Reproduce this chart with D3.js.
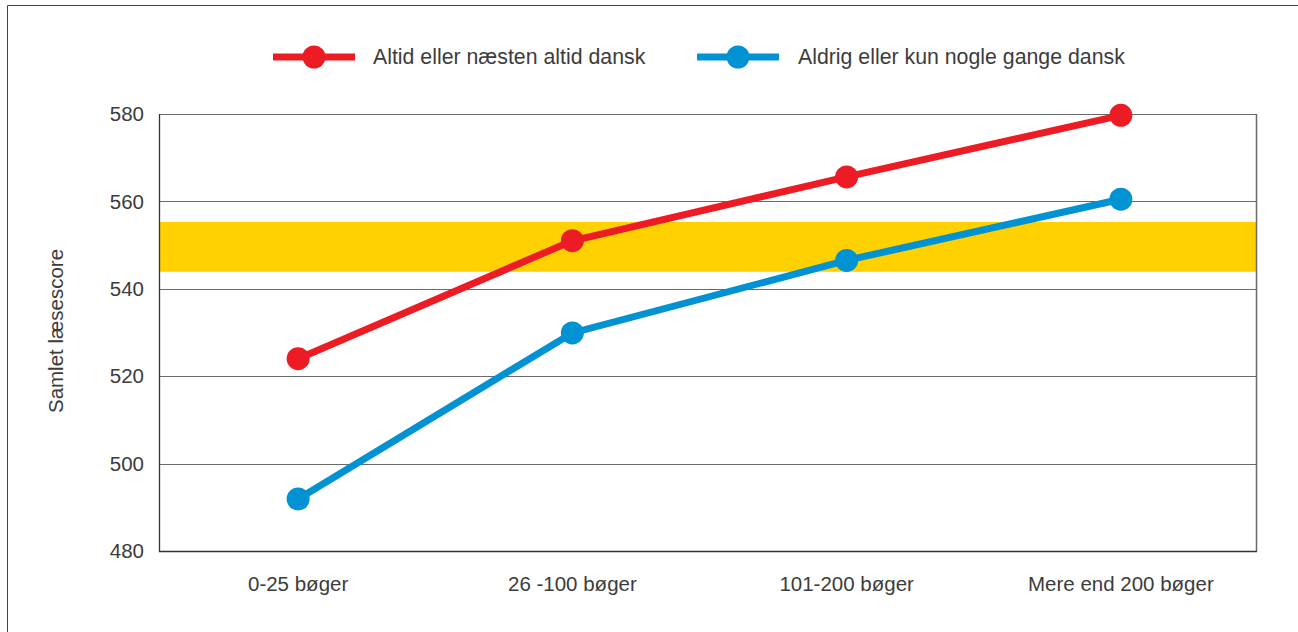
<!DOCTYPE html>
<html><head><meta charset="utf-8">
<script src="https://cdn.jsdelivr.net/npm/d3@7"></script>
<style>body{margin:0;background:#fff;} text{font-family:"Liberation Sans","Noto Sans",sans-serif;fill:#3c3c3c;}</style>
</head><body><svg id="c" width="1298" height="632"></svg>
<script>
const categories = ["0-25 bøger","26 -100 bøger","101-200 bøger","Mere end 200 bøger"];
const seriesNames = ["Altid eller næsten altid dansk","Aldrig eller kun nogle gange dansk"];
const seriesRed = [524, 551, 565.6, 579.7];
const seriesBlue = [491.9, 529.9, 546.5, 560.5];
const yTicks = [480, 500, 520, 540, 560, 580];
const band = [543.9, 555.3];
const colors = ["#ED1C24", "#0092D2"];
const yTitle = "Samlet læsescore";

const svg = d3.select("#c");
const L = 159, R = 1256, T = 114, B = 551;
const x = d3.scalePoint().domain(categories).range([L + 2, R + 2]).padding(0.5);
const y = d3.scaleLinear().domain([480, 580]).range([B, T]);

// outer frame
svg.append("path").attr("d", "M7.5,640V5.5H1300").attr("fill","none").attr("stroke","#444").attr("stroke-width",1);

// yellow band
svg.append("rect").attr("x", L).attr("width", R-L).attr("y", y(band[1])).attr("height", y(band[0]) - y(band[1])).attr("fill", "#FFD100");

// gridlines
svg.append("g").selectAll("line").data(yTicks.slice(1)).join("line")
  .attr("x1", L).attr("x2", R).attr("y1", d => Math.round(y(d))+0.5).attr("y2", d => Math.round(y(d))+0.5)
  .attr("stroke", "#6a6a6a").attr("stroke-width", 1);
// right border
svg.append("line").attr("x1", R+0.5).attr("x2", R+0.5).attr("y1", T).attr("y2", B).attr("stroke","#6a6a6a").attr("stroke-width",1.5);
// left & bottom axis lines
svg.append("path").attr("d", `M${L+0.5},${T}V${B+0.5}H${R+1}`).attr("fill","none").attr("stroke","#333").attr("stroke-width",1.3);

// y tick labels
svg.append("g").selectAll("text").data(yTicks).join("text")
  .attr("x", 144).attr("y", d => y(d)).attr("dy", "0.35em").attr("text-anchor","end")
  .attr("font-size", 20.5).text(d => d);

// x labels
svg.append("g").selectAll("text").data(categories).join("text")
  .attr("x", d => x(d)).attr("y", 591).attr("text-anchor","middle")
  .attr("font-size", 20.5).text(d => d);

// y title
svg.append("text").attr("transform", "translate(63,331) rotate(-90)").attr("text-anchor","middle")
  .attr("font-size", 20.5).text(yTitle);

// lines
const line = d3.line().x((d,i) => x(categories[i])).y(d => y(d));
[seriesRed, seriesBlue].forEach((s, k) => {
  svg.append("path").datum(s).attr("d", line).attr("fill","none").attr("stroke", colors[k]).attr("stroke-width", 7);
  svg.append("g").selectAll("circle").data(s).join("circle")
    .attr("cx", (d,i) => x(categories[i])).attr("cy", d => y(d)).attr("r", 11.5).attr("fill", colors[k]);
});

// legend
const legendX = [273, 697];
const textX = [373, 798];
seriesNames.forEach((n, k) => {
  const g = svg.append("g");
  g.append("line").attr("x1", legendX[k]).attr("x2", legendX[k]+82).attr("y1", 57).attr("y2", 57).attr("stroke", colors[k]).attr("stroke-width", 7);
  g.append("circle").attr("cx", legendX[k]+41).attr("cy", 57).attr("r", 11.5).attr("fill", colors[k]);
  g.append("text").attr("x", textX[k]).attr("y", 57).attr("dy","0.35em").attr("font-size", 21.3).text(n);
});
</script></body></html>
